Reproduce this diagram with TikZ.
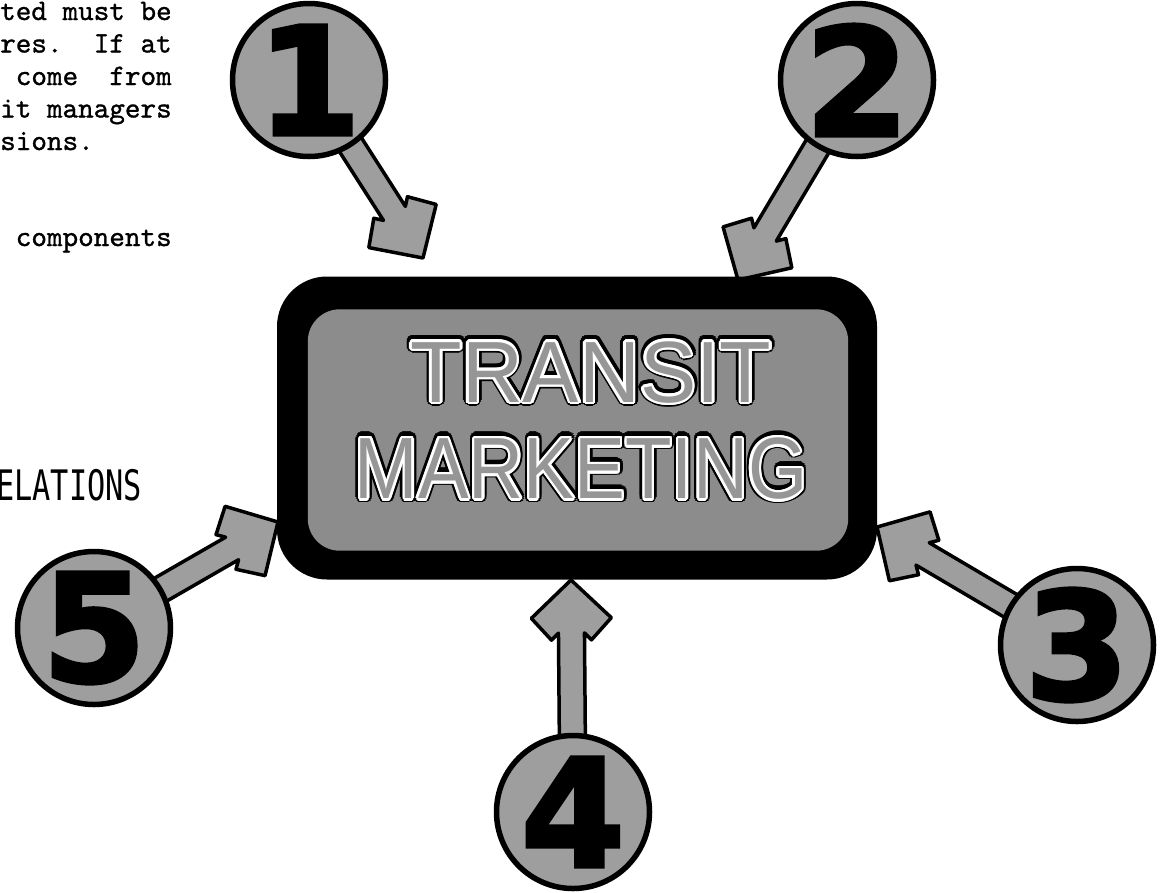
\documentclass[tikz,border=0pt]{standalone}
\usepackage{fontspec}
\usepackage{graphicx}
\usepackage[copies]{contour}
\usetikzlibrary{calc}
\newfontfamily\typefont{lmmono10-regular}[Extension=.otf, FakeBold=1]
\newfontfamily\signfont{Liberation Sans}
\newfontfamily\gothfont{DejaVu Sans Mono}
\newfontfamily\digitfont{DejaVu Sans}[BoldFeatures={FakeBold=2.5}]
\definecolor{circfill}{RGB}{158,158,158}
\definecolor{boxfill}{RGB}{140,140,140}
\definecolor{signgray}{RGB}{150,150,150}
\newcommand{\blockarr}[2]{%
  \draw[blockarrow] let \p1=(#1.center), \p2=(#2),
    \n1={atan2(\y1-\y2,\x1-\x2)}, \n2={veclen(\x1-\x2,\y1-\y2)} in
    (\p2) -- ($(\p2)+(\n1:38pt)+(\n1+90:40pt)$)
          -- ($(\p2)+(\n1:60pt)+(\n1+90:20pt)$)
          -- ($(\p2)+(\n1:53pt)+(\n1+90:13pt)$)
          -- ($(\p2)+(\n1:\n2)+(\n1+90:13pt)$)
          -- ($(\p2)+(\n1:\n2)+(\n1-90:13pt)$)
          -- ($(\p2)+(\n1:53pt)+(\n1-90:13pt)$)
          -- ($(\p2)+(\n1:60pt)+(\n1-90:20pt)$)
          -- ($(\p2)+(\n1:38pt)+(\n1-90:40pt)$) -- cycle;
}
\tikzset{
  ring/.style={circle, draw=black, line width=5.5pt, fill=circfill,
    minimum size=153pt, inner sep=0pt},
  blockarrow/.style={draw=black, line width=3.5pt, fill=circfill, line join=round},
  digit/.style={font=\digitfont\bfseries\fontsize{150}{150}\selectfont,
    text=black, inner sep=0pt},
  typeline/.style={font=\typefont\fontsize{29.7}{29.7}\selectfont,
    anchor=base west, inner sep=0pt},
  signline/.style={inner sep=0pt, font=\signfont\fontsize{87}{87}\selectfont},
}
\begin{document}
\begin{tikzpicture}[x=1pt,y=-1pt]
\useasboundingbox (0,0) rectangle (1161,892);
\fill[white] (0,0) rectangle (1161,892);

% typewritten text
\node[typeline] (l1) at (0,20) {ted\ must\ be};
\node[typeline] (l2) at (0,52.5) {res.\ \ If\ at};
\node[typeline] (l3) at (0,85) {\ come\ \ from};
\node[typeline] (l4) at (0,117.5) {it\ managers};
\node[typeline] (l5) at (0,150) {sions.};
\node[typeline] (l6) at (0,246) {\ components};
\node[anchor=base west, inner sep=0pt,
  font=\gothfont\fontsize{42}{42}\selectfont] (rel) at (-4,500)
  {\scalebox{0.72}[1]{ELATIONS}};

% circles (positions) and arrow tips
\coordinate (t1) at (423,258);
\coordinate (t2) at (738,280);
\coordinate (t3) at (877,527);
\coordinate (t4) at (571,580);
\coordinate (t5) at (278,522);
\path (309,80) node[ring,draw=none,fill=none] (c1) {}
      (857,80) node[ring,draw=none,fill=none] (c2) {}
      (1077,645) node[ring,draw=none,fill=none] (c3) {}
      (573,812) node[ring,draw=none,fill=none] (c4) {}
      (94,628) node[ring,draw=none,fill=none] (c5) {};

% arrows
\blockarr{c1}{t1}
\blockarr{c2}{t2}
\blockarr{c3}{t3}
\blockarr{c4}{t4}
\blockarr{c5}{t5}

% central sign
\node[fill=black, rounded corners=50pt, minimum width=600pt,
  minimum height=303pt, inner sep=0pt] (box) at (577,428) {};
\fill[boxfill, rounded corners=32pt]
  ($(box.south west)+(31,-29)$) rectangle ($(box.north east)+(-29,33)$);
\node[signline] (s1b) at (591,373.5)
  {\scalebox{0.97}[1]{\contourlength{5.5pt}\contour{black}{\textcolor{black}{TRANSIT}}}};
\node[signline] (s1) at (591,373.5)
  {\scalebox{0.97}[1]{\contourlength{2.6pt}\contour{white}{\textcolor{signgray}{TRANSIT}}}};
\node[signline] (s2b) at (581,470)
  {\scalebox{0.875}[1]{\contourlength{5.5pt}\contour{black}{\textcolor{black}{MARKETING}}}};
\node[signline] (s2) at (581,470)
  {\scalebox{0.875}[1]{\contourlength{2.6pt}\contour{white}{\textcolor{signgray}{MARKETING}}}};

% numbered circles
\foreach \n in {1,...,5} {
  \node[ring] (r\n) at (c\n.center) {};
  \node[digit] (d\n) at (c\n.center) {\n};
}
\end{tikzpicture}
\end{document}
